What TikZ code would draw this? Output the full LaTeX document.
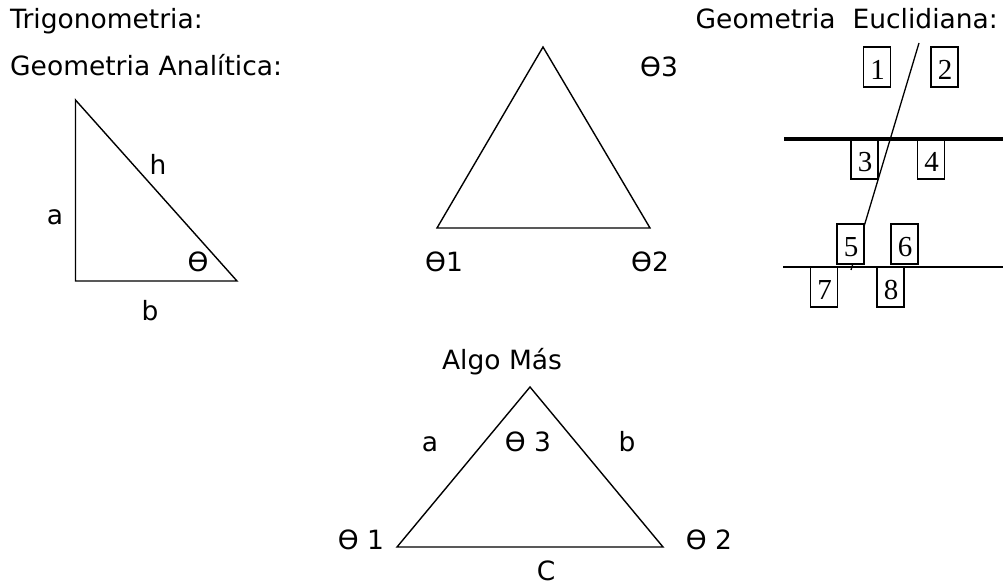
\documentclass[tikz,border=0pt]{standalone}
\usepackage{fontspec}
\setmainfont{DejaVu Sans}
\newfontfamily\boxfont{Liberation Serif}
\begin{document}
\begin{tikzpicture}[x=1pt,y=-1pt,
    txt/.style={anchor=base,inner sep=0pt,font=\fontsize{26.5}{30}\selectfont},
    side/.style={line width=1.4pt},
    numbox/.style={draw,fill=white,line width=1.2pt,minimum width=27pt,
      minimum height=40pt,inner sep=0pt},
    num/.style={anchor=base east,inner sep=0pt,xshift=0.5pt,yshift=8pt,
      font=\boxfont\fontsize{29}{31}\selectfont}]
  \useasboundingbox (0,0) rectangle (1003,585);
  % titles
  \draw
    (10,29) node[txt,anchor=base west] (trig){Trigonometria:}
    (10,76) node[txt,anchor=base west] (analit){Geometria Analítica:}
    (998,29) node[txt,anchor=base east] (eucl){Geometria\ \ Euclidiana:}
    (502,369) node[txt] (algo){Algo Más};
  % right triangle
  \draw
    (75.5,100) coordinate (r1)
    (75.5,281) coordinate (r2)
    (237,281) coordinate (r3);
  \draw[side] (r1) -- (r2) -- (r3) -- cycle;
  \draw
    (55,225) node[txt] (ra){a}
    (158,175) node[txt] (rh){h}
    (198,272) node[txt] (rt){Ɵ}
    (150,320) node[txt] (rb){b};
  % middle triangle
  \draw
    (543,47) coordinate (m3)
    (437,228) coordinate (m1)
    (650,228) coordinate (m2);
  \draw[side] (m1) -- (m2) -- (m3) -- cycle;
  \draw
    (659,77) node[txt] (mt3){Ɵ3}
    (444,272) node[txt] (mt1){Ɵ1}
    (650,272) node[txt] (mt2){Ɵ2};
  % lower triangle
  \draw
    (530,387) coordinate (t3)
    (397,547) coordinate (t1)
    (663,547) coordinate (t2);
  \draw[side] (t1) -- (t2) -- (t3) -- cycle;
  \draw
    (430,451) node[txt] (ta){a}
    (528,451) node[txt] (tt3){Ɵ 3}
    (627,451) node[txt] (tb){b}
    (361,549) node[txt] (tt1){Ɵ 1}
    (709,549) node[txt] (tt2){Ɵ 2}
    (546,580) node[txt] (tc){C};
  % parallel lines and transversal
  \draw
    (784,139) coordinate (p1)
    (1003,139) coordinate (p2)
    (783,267) coordinate (q1)
    (1003,267) coordinate (q2)
    (919,43) coordinate (s1)
    (851,270) coordinate (s2);
  \begin{scope}[every node/.style=numbox]
    \node[label={[num]south east:1}] (b1) at (877,67) {};
    \node[label={[num]south east:2}] (b2) at (944.5,67) {};
    \node[label={[num]south east:3}] (b3) at (864.5,159) {};
    \node[label={[num]south east:4}] (b4) at (931,159) {};
  \end{scope}
  \draw[line width=1.3pt] (s1) -- (s2);
  \begin{scope}[every node/.style=numbox]
    \node[label={[num]south east:5}] (b5) at (850.5,244) {};
    \node[label={[num]south east:6}] (b6) at (904.5,244) {};
    \node[label={[num]south east:7}] (b7) at (824,287) {};
    \node[label={[num]south east:8}] (b8) at (890.5,287) {};
  \end{scope}
  \draw[line width=3.5pt] (p1) -- (p2);
  \draw[line width=1.4pt] (q1) -- (q2);
\end{tikzpicture}
\end{document}
